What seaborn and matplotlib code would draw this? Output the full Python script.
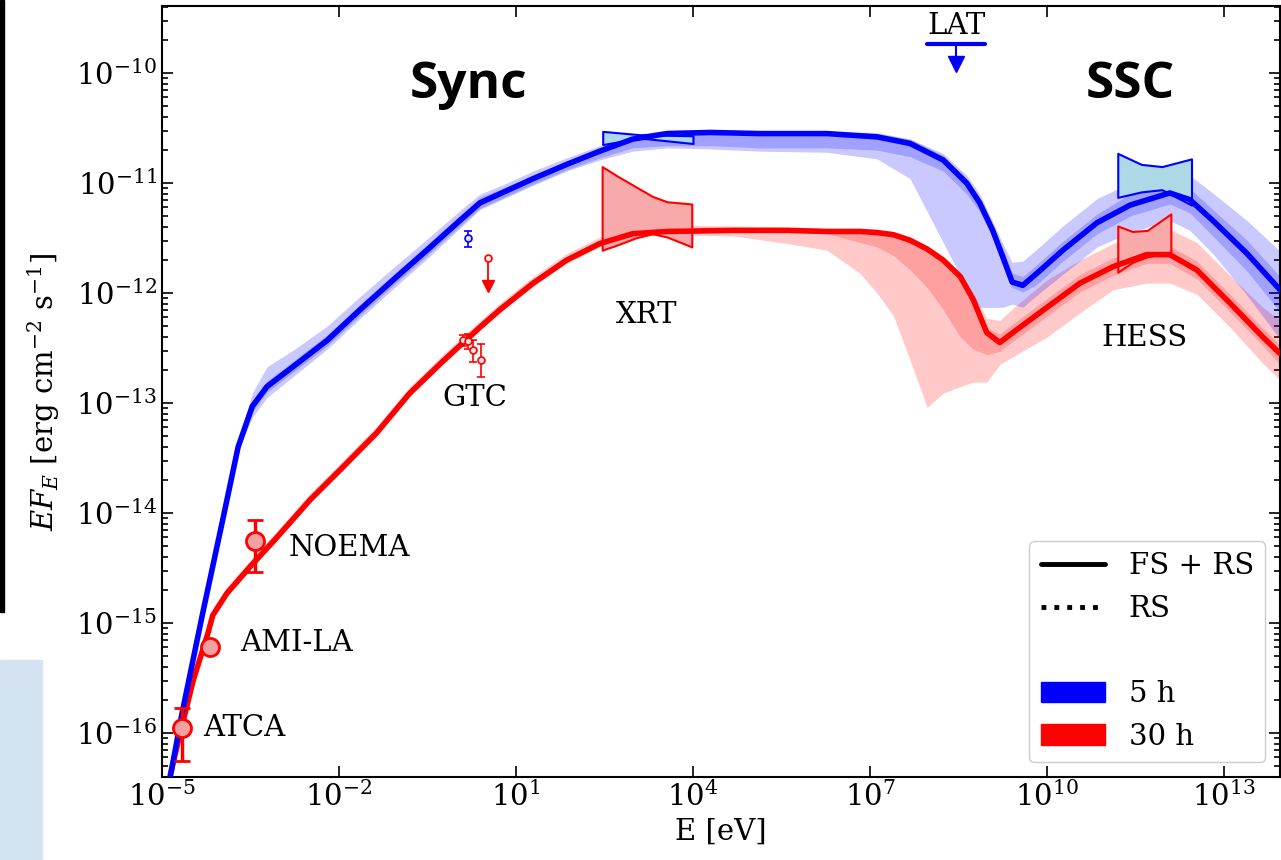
import numpy as np
import pandas as pd
import seaborn as sns
import matplotlib.pyplot as plt
from matplotlib.lines import Line2D
from matplotlib.patches import Patch, Rectangle
from matplotlib.ticker import FixedLocator, LogLocator

# ---- model curves (log10 E [eV], log10 EF_E) ----
blue_logE = [-4.86, -4.66, -4.31, -3.97, -3.71, -3.47, -3.22, -2.78, -2.20, -1.64, -1.08, -0.51, 0.05, 0.39,
             0.80, 1.29, 1.86, 2.42, 2.98, 3.56, 4.30, 5.14, 6.27, 7.12, 7.68, 8.24, 8.64, 8.86, 9.08, 9.25,
             9.41, 9.59, 9.83, 10.27, 10.85, 11.41, 12.08, 12.42, 12.81, 13.39, 13.95]
blue_logF = [-16.40, -15.82, -14.91, -14.06, -13.40, -13.03, -12.85, -12.67, -12.43, -12.15, -11.88, -11.61,
             -11.34, -11.18, -11.08, -10.96, -10.83, -10.71, -10.60, -10.55, -10.54, -10.55, -10.55, -10.58,
             -10.64, -10.79, -11.00, -11.18, -11.43, -11.67, -11.90, -11.93, -11.82, -11.61, -11.36, -11.20,
             -11.09, -11.15, -11.34, -11.64, -11.97]
# band half widths in dex (above / below the line)
blue_out_up = [0, 0, 0, 0, 0.03, 0.12, 0.18, 0.15, 0.13, 0.12, 0.11, 0.10, 0.09, 0.08, 0.07, 0.07, 0.06, 0.05,
               0.04, 0.03, 0.03, 0.02, 0.02, 0.03, 0.04, 0.06, 0.07, 0.08, 0.08, 0.12, 0.18, 0.22, 0.22, 0.22,
               0.22, 0.20, 0.20, 0.22, 0.25, 0.30, 0.35]
blue_out_dn = [0, 0, 0, 0, 0.03, 0.10, 0.10, 0.09, 0.08, 0.08, 0.08, 0.08, 0.07, 0.06, 0.06, 0.06, 0.06, 0.08,
               0.11, 0.13, 0.15, 0.16, 0.17, 0.20, 0.32, 0.75, 0.95, 0.95, 0.70, 0.46, 0.20, 0.20, 0.20, 0.22,
               0.22, 0.25, 0.25, 0.28, 0.30, 0.38, 0.45]
blue_in_up = [0, 0, 0, 0, 0.02, 0.05, 0.05, 0.05, 0.05, 0.05, 0.05, 0.05, 0.05, 0.05, 0.04, 0.03, 0.02, 0.02,
              0.02, 0.02, 0.02, 0.02, 0.02, 0.04, 0.04, 0.04, 0.04, 0.04, 0.04, 0.08, 0.08, 0.08, 0.08, 0.08,
              0.08, 0.10, 0.10, 0.10, 0.10, 0.12, 0.12]
blue_in_dn = [0, 0, 0, 0, 0.02, 0.05, 0.05, 0.05, 0.05, 0.05, 0.05, 0.05, 0.05, 0.05, 0.05, 0.05, 0.05, 0.06,
              0.08, 0.11, 0.12, 0.13, 0.13, 0.12, 0.12, 0.10, 0.10, 0.08, 0.06, 0.05, 0.05, 0.06, 0.10, 0.10,
              0.10, 0.10, 0.10, 0.12, 0.14, 0.16, 0.20]

red_logE = [-4.86, -4.69, -4.47, -4.22, -4.14, -3.90, -3.51, -3.05, -2.49, -1.93, -1.36, -0.80, -0.24, 0.39,
            0.73, 1.29, 1.86, 2.42, 2.98, 3.56, 4.68, 5.60, 6.27, 6.83, 7.12, 7.40, 7.68, 7.97, 8.24, 8.53,
            8.75, 8.98, 9.20, 9.42, 10.00, 10.56, 11.12, 11.69, 12.08, 12.54, 13.10, 13.66, 13.95]
red_logF = [-16.38, -16.00, -15.52, -15.09, -14.93, -14.73, -14.49, -14.22, -13.88, -13.58, -13.27, -12.91,
            -12.62, -12.31, -12.15, -11.91, -11.70, -11.55, -11.46, -11.44, -11.43, -11.43, -11.44, -11.44,
            -11.45, -11.47, -11.52, -11.60, -11.70, -11.85, -12.06, -12.36, -12.45, -12.36, -12.13, -11.91,
            -11.76, -11.65, -11.65, -11.79, -12.09, -12.40, -12.55]
red_out_up = [0, 0, 0, 0.02, 0.06, 0.06, 0.06, 0.06, 0.06, 0.06, 0.06, 0.06, 0.06, 0.06, 0.06, 0.06, 0.06, 0.06,
              0.06, 0.06, 0.04, 0.03, 0.03, 0.03, 0.03, 0.03, 0.03, 0.03, 0.03, 0.04, 0.06, 0.13, 0.20, 0.22,
              0.25, 0.21, 0.21, 0.22, 0.23, 0.25, 0.25, 0.27, 0.30]
red_out_dn = [0, 0, 0, 0, 0, 0.03, 0.03, 0.03, 0.03, 0.03, 0.03, 0.03, 0.03, 0.03, 0.03, 0.03, 0.03, 0.03, 0.03,
              0.03, 0.05, 0.12, 0.17, 0.38, 0.55, 0.74, 1.09, 1.44, 1.21, 1.00, 0.75, 0.45, 0.20, 0.22, 0.27,
              0.27, 0.21, 0.26, 0.26, 0.22, 0.22, 0.24, 0.24]
red_in_up = [0, 0, 0, 0, 0.03, 0.03, 0.03, 0.03, 0.03, 0.03, 0.03, 0.03, 0.03, 0.03, 0.03, 0.03, 0.03, 0.03,
             0.03, 0.03, 0.02, 0.02, 0.02, 0.02, 0.02, 0.02, 0.02, 0.02, 0.02, 0.02, 0.02, 0.04, 0.08, 0.08,
             0.08, 0.08, 0.08, 0.08, 0.08, 0.08, 0.08, 0.08, 0.08]
red_in_dn = [0, 0, 0, 0, 0.02, 0.02, 0.02, 0.02, 0.02, 0.02, 0.02, 0.02, 0.02, 0.02, 0.02, 0.02, 0.02, 0.02,
             0.02, 0.02, 0.02, 0.02, 0.02, 0.10, 0.13, 0.19, 0.27, 0.35, 0.45, 0.55, 0.45, 0.20, 0.08, 0.08,
             0.08, 0.08, 0.08, 0.08, 0.08, 0.08, 0.08, 0.08, 0.10]

# ---- bowties (log10 E, upper, lower) ----
xrt5_logE = [2.47, 3.10, 4.00]
xrt5_hi = [-10.53, -10.56, -10.57]
xrt5_lo = [-10.65, -10.59, -10.64]
xrt30_logE = [2.46, 2.73, 3.02, 3.31, 3.56, 3.98]
xrt30_hi = [-10.85, -10.94, -11.03, -11.12, -11.17, -11.19]
xrt30_lo = [-11.61, -11.56, -11.50, -11.46, -11.49, -11.58]
hess5_logE = [11.20, 11.60, 11.95, 12.45]
hess5_hi = [-10.73, -10.83, -10.85, -10.78]
hess5_lo = [-11.13, -11.08, -11.06, -11.20]
hess30_logE = [11.20, 11.45, 11.70, 12.10]
hess30_hi = [-11.39, -11.44, -11.43, -11.28]
hess30_lo = [-11.81, -11.72, -11.67, -11.63]

# ---- radio points (30 h) ----
radio_names = ['ATCA', 'AMI-LA', 'NOEMA']
radio_logE = [-4.66, -4.19, -3.42]
radio_logF = [-15.95, -15.22, -14.25]
radio_hi = [-15.77, -15.22, -14.06]
radio_lo = [-16.25, -15.22, -14.54]

# ---- GTC optical points ----
gtc30_logE = [0.10, 0.19, 0.27, 0.41]
gtc30_logF = [-12.43, -12.44, -12.52, -12.61]
gtc30_hi = [-12.38, -12.37, -12.43, -12.46]
gtc30_lo = [-12.48, -12.51, -12.63, -12.76]
gtc5_logE = [0.19]
gtc5_logF = [-11.50]
gtc5_hi = [-11.44]
gtc5_lo = [-11.58]
ul30_logE = 0.53
ul30_logF = [-11.68, -11.94]

# ---- LAT upper limit ----
lat_logE = [7.97, 8.95]
lat_logF = -9.74
lat_arrow = [-9.74, -9.92]

sns.set_style('ticks')
plt.rcParams['font.family'] = ['DejaVu Serif']
plt.rcParams['mathtext.fontset'] = 'dejavuserif'
for k in ['text.color', 'axes.labelcolor', 'xtick.color', 'ytick.color', 'axes.edgecolor']:
    plt.rcParams[k] = 'black'

fs = 21
fig = plt.figure(figsize=(12.81, 8.6), dpi=100)
ax = fig.add_axes([162 / 1281, 83 / 860, 1118 / 1281, 771 / 860])
ax.set_xscale('log')
ax.set_yscale('log')

p = lambda v: 10 ** np.asarray(v, dtype=float)

# bands
for logE, logF, oup, odn, iup, idn, col in [
        (red_logE, red_logF, red_out_up, red_out_dn, red_in_up, red_in_dn, 'red'),
        (blue_logE, blue_logF, blue_out_up, blue_out_dn, blue_in_up, blue_in_dn, 'blue')]:
    lf = np.asarray(logF)
    ax.fill_between(p(logE), p(lf - np.asarray(odn)), p(lf + np.asarray(oup)), color=col, alpha=0.21, lw=0, zorder=1)
    ax.fill_between(p(logE), p(lf - np.asarray(idn)), p(lf + np.asarray(iup)), color=col, alpha=0.2, lw=0, zorder=1)

# bowties
ax.fill_between(p(xrt30_logE), p(xrt30_lo), p(xrt30_hi), facecolor='#f8aaaa', edgecolor='red', lw=1.5, zorder=3)
ax.fill_between(p(hess30_logE), p(hess30_lo), p(hess30_hi), facecolor='#f8aaaa', edgecolor='red', lw=1.5, zorder=3)
ax.fill_between(p(xrt5_logE), p(xrt5_lo), p(xrt5_hi), facecolor='lightblue', edgecolor='blue', lw=1.5, zorder=3)
ax.fill_between(p(hess5_logE), p(hess5_lo), p(hess5_hi), facecolor='lightblue', edgecolor='blue', lw=1.5, zorder=3)

# model lines
df_red = pd.DataFrame({'E': p(red_logE), 'F': p(red_logF)})
df_blue = pd.DataFrame({'E': p(blue_logE), 'F': p(blue_logF)})
sns.lineplot(data=df_red, x='E', y='F', color='red', lw=4, ax=ax, sort=False, zorder=4)
sns.lineplot(data=df_blue, x='E', y='F', color='blue', lw=4, ax=ax, sort=False, zorder=4)

# radio data
rf = p(radio_logF)
ax.errorbar(p(radio_logE), rf, yerr=[rf - p(radio_lo), p(radio_hi) - rf], fmt='o', ms=13,
            mfc='#f4a0a0', mec='red', mew=2, ecolor='red', elinewidth=2.5, capsize=6, capthick=2.5, zorder=6)

# GTC
gf = p(gtc30_logF)
ax.errorbar(p(gtc30_logE), gf, yerr=[gf - p(gtc30_lo), p(gtc30_hi) - gf], fmt='o', ms=5,
            mfc='#fde0e0', mec='red', mew=1.2, ecolor='red', elinewidth=1.2, capsize=3, zorder=6)
bf = p(gtc5_logF)
ax.errorbar(p(gtc5_logE), bf, yerr=[bf - p(gtc5_lo), p(gtc5_hi) - bf], fmt='o', ms=5,
            mfc='#e0e0ff', mec='blue', mew=1.2, ecolor='blue', elinewidth=1.2, capsize=3, zorder=6)
ax.plot([p(ul30_logE)] * 2, p(ul30_logF), color='red', lw=1.3, zorder=6)
ax.plot(p(ul30_logE), p(ul30_logF[0]), 'o', ms=5, mfc='#fde0e0', mec='red', mew=1.2, zorder=6)
ax.plot(p(ul30_logE), p(ul30_logF[1]), 'v', ms=8, color='red', zorder=6)

# LAT upper limit
ax.plot(p(lat_logE), [p(lat_logF)] * 2, color='blue', lw=3, zorder=6, clip_on=False)
lat_mid = p(np.mean(lat_logE))
ax.plot([lat_mid] * 2, p(lat_arrow), color='blue', lw=1.5, zorder=6)
ax.plot(lat_mid, p(lat_arrow[1]), 'v', ms=12, color='blue', zorder=6)

# labels
ax.text(p(np.mean(lat_logE)), p(-9.57), 'LAT', fontsize=fs, ha='center', va='center')
ax.text(p(3.22), p(-12.2), 'XRT', fontsize=fs, ha='center', va='center')
ax.text(p(0.31), p(-12.95), 'GTC', fontsize=fs, ha='center', va='center')
ax.text(p(11.66), p(-12.41), 'HESS', fontsize=fs, ha='center', va='center')
for name, x, y in zip(radio_names, [-4.3, -3.68, -2.86], [-15.95, -15.18, -14.32]):
    ax.text(p(x), p(y), name, fontsize=fs, ha='left', va='center')
ax.text(p(0.19), p(-10.11), 'Sync', fontsize=37, fontweight='bold', family=['Open Sans', 'DejaVu Sans'],
        ha='center', va='center', color='black')
ax.text(p(11.41), p(-10.11), 'SSC', fontsize=37, fontweight='bold', family=['Open Sans', 'DejaVu Sans'],
        ha='center', va='center', color='black')

ax.set_xlim(1e-5, 10 ** 13.95)
ax.set_ylim(10 ** -16.4, 10 ** -9.39)
ax.set_xticks([1e-5, 1e-2, 1e1, 1e4, 1e7, 1e10, 1e13])
ax.xaxis.set_minor_locator(plt.NullLocator())
ax.yaxis.set_major_locator(FixedLocator([1e-16, 1e-15, 1e-14, 1e-13, 1e-12, 1e-11, 1e-10]))
ax.yaxis.set_minor_locator(LogLocator(base=10, subs=np.arange(2, 10), numticks=30))
ax.tick_params(which='both', direction='in', top=True, right=True, labelsize=fs, width=1.2)
ax.tick_params(which='major', length=8)
ax.tick_params(which='minor', length=4)
for s in ax.spines.values():
    s.set_linewidth(1.5)
ax.set_xlabel('E [eV]', fontsize=fs, labelpad=4)
ax.set_ylabel(r'$EF_E$ [erg cm$^{-2}$ s$^{-1}$]', fontsize=fs, labelpad=10)

handles = [Line2D([], [], color='black', lw=3.5, ls='-'),
           Line2D([], [], color='black', lw=3.5, ls=':'),
           Line2D([], [], color='none'),
           Patch(color='blue'),
           Patch(color='red')]
labels = ['FS + RS', 'RS', ' ', '5 h', '30 h']
ax.legend(handles, labels, loc='lower right', fontsize=fs, handlelength=2.2, frameon=True,
          edgecolor='0.8', framealpha=1)

# screenshot edge artefacts
fig.patches.append(Rectangle((0, 1 - 612 / 860), 4 / 1281, 612 / 860, color='black', transform=fig.transFigure))
fig.patches.append(Rectangle((0, 0), 42 / 1281, 200 / 860, color='#d4e3f2', transform=fig.transFigure))

fig.savefig('out.png', dpi=100)
